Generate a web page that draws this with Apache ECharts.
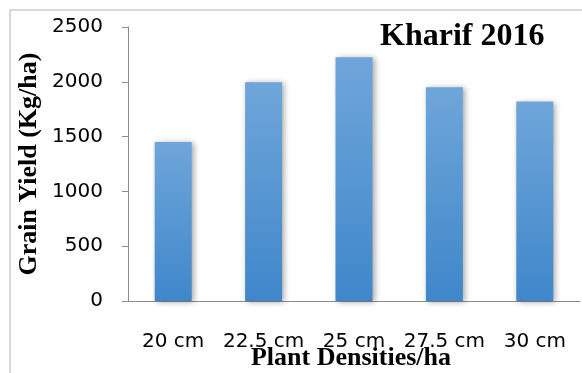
<!DOCTYPE html>
<html>
<head>
<meta charset="utf-8">
<script src="https://cdn.jsdelivr.net/npm/echarts@6/dist/echarts.min.js"></script>
<style>
  html, body { margin: 0; padding: 0; background: #fff; }
  #main { width: 582px; height: 373px; }
</style>
</head>
<body>
<div id="main"></div>
<script>
// data
var densities = ['20 cm', '22.5 cm', '25 cm', '27.5 cm', '30 cm'];
var grainYield = [1450, 1995, 2225, 1950, 1820];
var yTicks = [0, 500, 1000, 1500, 2000, 2500];

var chart = echarts.init(document.getElementById('main'));
chart.setOption({
  animation: false,
  title: {
    text: 'Kharif 2016',
    left: 375,
    top: 16,
    textStyle: { fontFamily: 'Liberation Serif', fontWeight: 'bold', fontSize: 32, color: '#000' }
  },
  grid: { left: 128, right: 2, top: 27, bottom: 72, outerBoundsMode: 'none' },
  // outer frame (left and top border only)
  graphic: [
    { type: 'line', shape: { x1: 10, y1: 10, x2: 582, y2: 10 }, style: { stroke: '#b0b0b0', lineWidth: 1 } },
    { type: 'line', shape: { x1: 10, y1: 10, x2: 10, y2: 373 }, style: { stroke: '#b0b0b0', lineWidth: 1 } }
  ],
  xAxis: {
    type: 'category',
    data: densities,
    name: 'Plant Densities/ha',
    nameLocation: 'middle',
    nameGap: 44,
    nameMoveOverlap: false,
    nameTextStyle: { fontFamily: 'Liberation Serif', fontWeight: 'bold', fontSize: 26, color: '#000', padding: [0, 6, 0, 0] },
    axisLine: { lineStyle: { color: '#8c8c8c' } },
    axisTick: { length: 6, lineStyle: { color: '#8c8c8c' } },
    axisLabel: { interval: 0, hideOverlap: false, margin: 31, fontFamily: 'DejaVu Sans', fontSize: 20, color: '#000' }
  },
  yAxis: {
    type: 'value',
    min: yTicks[0],
    max: yTicks[yTicks.length - 1],
    interval: 500,
    name: 'Grain Yield (Kg/ha)',
    nameLocation: 'middle',
    nameGap: 86,
    nameMoveOverlap: false,
    nameTextStyle: { fontFamily: 'Liberation Serif', fontWeight: 'bold', fontSize: 26, color: '#000' },
    axisLine: { show: true, lineStyle: { color: '#8c8c8c' } },
    axisTick: { show: true, length: 6, lineStyle: { color: '#8c8c8c' } },
    splitLine: { show: false },
    axisLabel: {
      margin: 25,
      fontFamily: 'DejaVu Sans',
      fontSize: 20,
      color: '#000',
      formatter: function (v) { return String(v); }
    }
  },
  series: [{
    type: 'bar',
    data: grainYield,
    barWidth: 37,
    itemStyle: {
      color: new echarts.graphic.LinearGradient(0, 0, 0, 1, [
        { offset: 0, color: '#6fa6da' },
        { offset: 1, color: '#3f87ca' }
      ]),
      shadowColor: 'rgba(0,0,0,0.35)',
      shadowBlur: 6,
      shadowOffsetX: 2,
      shadowOffsetY: 1
    }
  }]
});
</script>
</body>
</html>
